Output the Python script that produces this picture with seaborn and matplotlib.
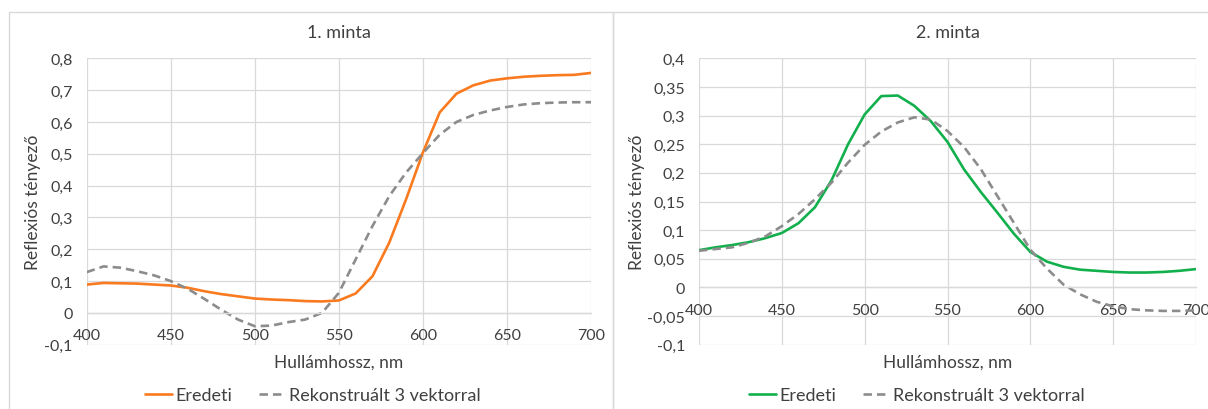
import numpy as np
import pandas as pd
import matplotlib
matplotlib.use("Agg")
import matplotlib.pyplot as plt
from matplotlib.patches import Rectangle
from matplotlib.ticker import FuncFormatter, MultipleLocator
import seaborn as sns

# Wavelengths (nm)
wavelength = list(range(400, 701, 10))

# Sample 1 reflectance
minta1_eredeti = [0.089, 0.094, 0.093, 0.092, 0.089, 0.086, 0.079, 0.068, 0.059, 0.052,
                  0.045, 0.042, 0.040, 0.037, 0.036, 0.039, 0.061, 0.115, 0.221, 0.357,
                  0.504, 0.630, 0.689, 0.715, 0.730, 0.737, 0.742, 0.745, 0.747, 0.748,
                  0.754]
minta1_rekonstrualt = [0.128, 0.146, 0.142, 0.131, 0.118, 0.100, 0.076, 0.044, 0.010, -0.021,
                       -0.042, -0.040, -0.029, -0.021, 0.000, 0.063, 0.168, 0.273, 0.367, 0.441,
                       0.502, 0.560, 0.600, 0.622, 0.636, 0.647, 0.655, 0.659, 0.661, 0.662,
                       0.662]

# Sample 2 reflectance
minta2_eredeti = [0.065, 0.070, 0.074, 0.079, 0.086, 0.095, 0.112, 0.140, 0.187, 0.250,
                  0.302, 0.334, 0.335, 0.317, 0.290, 0.254, 0.206, 0.167, 0.131, 0.094,
                  0.062, 0.045, 0.036, 0.031, 0.029, 0.027, 0.026, 0.026, 0.027, 0.029,
                  0.032]
minta2_rekonstrualt = [0.064, 0.067, 0.070, 0.078, 0.089, 0.107, 0.128, 0.154, 0.183, 0.218,
                       0.249, 0.272, 0.288, 0.297, 0.293, 0.273, 0.245, 0.207, 0.160, 0.113,
                       0.066, 0.033, 0.005, -0.012, -0.025, -0.033, -0.038, -0.040, -0.041, -0.041,
                       -0.040]

series_names = ["Eredeti", "Rekonstruált 3 vektorral"]
titles = ["1. minta", "2. minta"]
x_ticks = [400, 450, 500, 550, 600, 650, 700]

sns.set_theme(style="white")
plt.rcParams["font.family"] = ["Lato", "DejaVu Sans"]
TEXT = "#404040"
GRID = "#D9D9D9"

W, H = 1208, 410
fig = plt.figure(figsize=(W / 100, H / 100), dpi=100)

# chart frames
for x0, x1 in [(9, 613), (613, 1212)]:
    fig.add_artist(Rectangle((x0 / W, -0.01), (x1 - x0) / W, (H - 12.7) / H + 0.01,
                             transform=fig.transFigure, fill=False,
                             edgecolor=GRID, linewidth=1.0))


def comma_fmt(v, _pos):
    s = f"{round(v, 3):g}"
    if s == "-0":
        s = "0"
    return s.replace(".", ",")


panels = [
    dict(left=86.7, right=591, eredeti=minta1_eredeti, rek=minta1_rekonstrualt,
         color="#F97A1F", ylim=(-0.1, 0.8), step=0.1, ylab_x=41, leg_x=313),
    dict(left=699, right=1196, eredeti=minta2_eredeti, rek=minta2_rekonstrualt,
         color="#12B04C", ylim=(-0.1, 0.4), step=0.05, ylab_x=645, leg_x=917),
]

top_px, bot_px = 59.3, 345.7
for i, p in enumerate(panels):
    ax = fig.add_axes([p["left"] / W, 1 - bot_px / H,
                       (p["right"] - p["left"]) / W, (bot_px - top_px) / H])
    df = pd.DataFrame({
        "wl": wavelength * 2,
        "val": p["eredeti"] + p["rek"],
        "series": [series_names[0]] * len(wavelength) + [series_names[1]] * len(wavelength),
    })
    sns.lineplot(data=df[df.series == series_names[0]], x="wl", y="val", ax=ax,
                 color=p["color"], linewidth=1.9, label=series_names[0])
    sns.lineplot(data=df[df.series == series_names[1]], x="wl", y="val", ax=ax,
                 color="#8C8C8C", linewidth=1.9, linestyle=(0, (3.2, 1.9)),
                 label=series_names[1])

    ax.set_xlim(400, 700)
    ax.set_ylim(*p["ylim"])
    ax.set_xticks(x_ticks)
    ax.yaxis.set_major_locator(MultipleLocator(p["step"]))
    ax.yaxis.set_major_formatter(FuncFormatter(comma_fmt))
    ax.grid(True, color=GRID, linewidth=0.9)
    ax.set_axisbelow(True)
    for side in ["top", "right", "left"]:
        ax.spines[side].set_visible(False)
    ax.spines["bottom"].set_position(("data", 0))
    ax.spines["bottom"].set_color(GRID)
    ax.spines["bottom"].set_linewidth(1.0)
    ax.tick_params(axis="both", length=0, labelsize=11.5, labelcolor=TEXT)
    ax.tick_params(axis="x", pad=11)
    ax.tick_params(axis="y", pad=10)

    ax.set_title(titles[i], fontsize=13, color=TEXT, pad=15)
    ax.set_xlabel("Hullámhossz, nm", fontsize=12.5, color=TEXT)
    ax.xaxis.set_label_coords(0.5, -0.03)
    ax.set_ylabel("Reflexiós tényező", fontsize=12.5, color=TEXT)
    ax.yaxis.set_label_coords((p["ylab_x"] - p["left"]) / (p["right"] - p["left"]), 0.5)

    ax.legend(loc="center", bbox_to_anchor=(p["leg_x"] / W, 1 - 396 / H),
              bbox_transform=fig.transFigure, ncol=2, frameon=False,
              fontsize=13, handlelength=1.5, handletextpad=0.15,
              columnspacing=1.5, labelcolor=TEXT)

fig.savefig("out.png", dpi=100, facecolor="white")
